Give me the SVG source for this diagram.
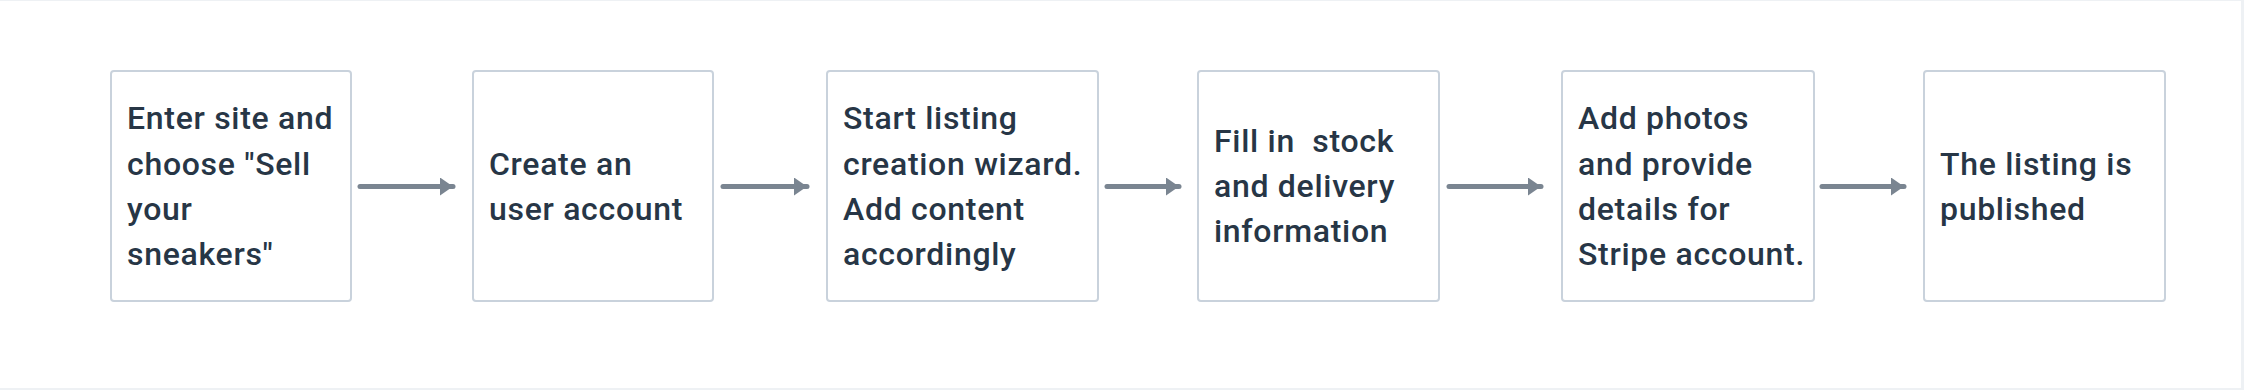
<svg xmlns="http://www.w3.org/2000/svg" width="2244" height="390" viewBox="0 0 2244 390">
<defs>
<style>
.box{fill:#ffffff;stroke:#c9d2dc;stroke-width:2}
.lbl{font-family:Roboto,"Liberation Sans",sans-serif;font-size:32px;font-weight:500;letter-spacing:0.7px;fill:#273646;white-space:pre}
.conn{stroke:#7a8591;stroke-width:5;stroke-linecap:round;fill:none}
</style>
<marker id="ah" viewBox="0 0 13 18" refX="13" refY="9" markerWidth="13" markerHeight="18" markerUnits="userSpaceOnUse" orient="auto">
<path d="M0,0 L13,9 L0,18 Z" fill="#7a8591"/>
</marker>
</defs>
<rect x="0" y="0" width="2244" height="390" fill="#eef1f4"/>
<rect x="0" y="1" width="2241" height="387" fill="#ffffff"/>
<g id="connectors">
<line class="conn" x1="360" y1="186.5" x2="453" y2="186.5" marker-end="url(#ah)"/>
<line class="conn" x1="723" y1="186.5" x2="807" y2="186.5" marker-end="url(#ah)"/>
<line class="conn" x1="1107" y1="186.5" x2="1179" y2="186.5" marker-end="url(#ah)"/>
<line class="conn" x1="1449" y1="186.5" x2="1541" y2="186.5" marker-end="url(#ah)"/>
<line class="conn" x1="1822" y1="186.5" x2="1904" y2="186.5" marker-end="url(#ah)"/>
</g>
<g id="n1">
<rect class="box" x="111" y="71" width="240" height="230" rx="3"/>
<text class="lbl"><tspan x="127" y="129">Enter site and</tspan><tspan x="127" y="174.5">choose "Sell</tspan><tspan x="127" y="220">your</tspan><tspan x="127" y="265">sneakers"</tspan></text>
</g>
<g id="n2">
<rect class="box" x="473" y="71" width="240" height="230" rx="3"/>
<text class="lbl"><tspan x="489" y="174.5">Create an</tspan><tspan x="489" y="220">user account</tspan></text>
</g>
<g id="n3">
<rect class="box" x="827" y="71" width="271" height="230" rx="3"/>
<text class="lbl"><tspan x="843" y="129">Start listing</tspan><tspan x="843" y="174.5">creation wizard.</tspan><tspan x="843" y="220">Add content</tspan><tspan x="843" y="265">accordingly</tspan></text>
</g>
<g id="n4">
<rect class="box" x="1198" y="71" width="241" height="230" rx="3"/>
<text class="lbl"><tspan x="1214" y="152">Fill in  stock</tspan><tspan x="1214" y="197">and delivery</tspan><tspan x="1214" y="242">information</tspan></text>
</g>
<g id="n5">
<rect class="box" x="1562" y="71" width="252" height="230" rx="3"/>
<text class="lbl"><tspan x="1578" y="129">Add photos</tspan><tspan x="1578" y="174.5">and provide</tspan><tspan x="1578" y="220">details for</tspan><tspan x="1578" y="265">Stripe account.</tspan></text>
</g>
<g id="n6">
<rect class="box" x="1924" y="71" width="241" height="230" rx="3"/>
<text class="lbl"><tspan x="1940" y="174.5">The listing is</tspan><tspan x="1940" y="220">published</tspan></text>
</g>
</svg>
